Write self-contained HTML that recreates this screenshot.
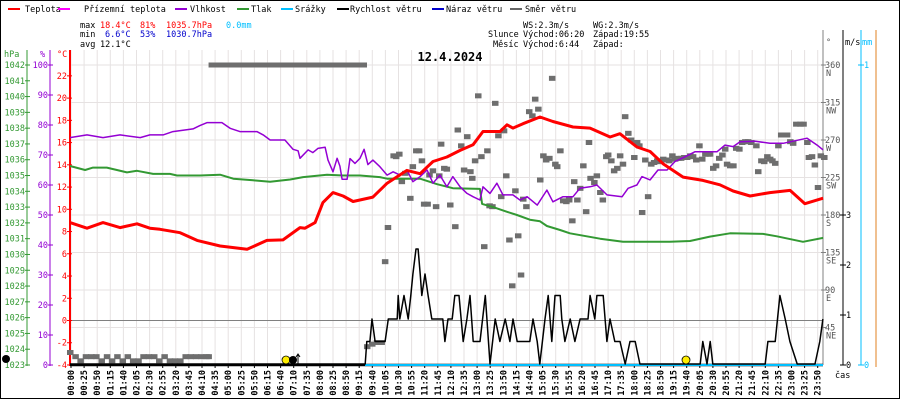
<!DOCTYPE html>
<html><head><meta charset="utf-8"><style>
html,body{margin:0;padding:0;background:#fff;}
svg{display:block;font-family:"DejaVu Sans Mono","Liberation Mono",monospace;}
</style></head><body>
<svg id="chart" width="900" height="400" viewBox="0 0 900 400" xmlns="http://www.w3.org/2000/svg">
<rect x="0" y="0" width="900" height="400" fill="#fff"/>
<g id="grid"></g>
<g id="legend" font-size="8.5">
 <line x1="8" y1="9" x2="20" y2="9" stroke="#f00" stroke-width="2"/><text x="25" y="12">Teplota</text>
 <line x1="58" y1="9" x2="70" y2="9" stroke="#f0f" stroke-width="2"/><text x="84" y="12">Přízemní teplota</text>
 <line x1="175" y1="9" x2="187" y2="9" stroke="#9400d3" stroke-width="2"/><text x="190" y="12">Vlhkost</text>
 <line x1="237" y1="9" x2="249" y2="9" stroke="#339933" stroke-width="2"/><text x="251" y="12">Tlak</text>
 <line x1="281" y1="9" x2="293" y2="9" stroke="#00bfff" stroke-width="2"/><text x="295" y="12">Srážky</text>
 <line x1="337" y1="9" x2="349" y2="9" stroke="#000" stroke-width="2"/><text x="350" y="12">Rychlost větru</text>
 <line x1="432" y1="9" x2="444" y2="9" stroke="#0000cc" stroke-width="2"/><text x="446" y="12">Náraz větru</text>
 <line x1="510" y1="9" x2="522" y2="9" stroke="#666" stroke-width="2"/><text x="525" y="12">Směr větru</text>
</g>
<g id="stats" font-size="8.5">
 <text x="80" y="28">max</text><text x="100" y="28" fill="#f00">18.4°C</text><text x="140" y="28" fill="#f00">81%</text><text x="166" y="28" fill="#f00">1035.7hPa</text><text x="226" y="28" fill="#00bfff">0.0mm</text>
 <text x="80" y="37">min</text><text x="105" y="37" fill="#00c">6.6°C</text><text x="140" y="37" fill="#00c">53%</text><text x="166" y="37" fill="#00c">1030.7hPa</text>
 <text x="80" y="47">avg</text><text x="100" y="47">12.1°C</text>
 <text x="523" y="28">WS:2.3m/s</text><text x="593" y="28">WG:2.3m/s</text>
 <text x="488" y="37">Slunce</text><text x="523" y="37">Východ:06:20</text><text x="593" y="37">Západ:19:55</text>
 <text x="493" y="47">Měsíc</text><text x="523" y="47">Východ:6:44</text><text x="593" y="47">Západ:</text>
</g>
<text x="450" y="61" text-anchor="middle" font-size="12" font-weight="bold">12.4.2024</text>
<g id="axes"></g>
<g id="series"></g>
<rect x="0.5" y="0.5" width="899" height="398" fill="none" stroke="#000" stroke-width="1"/>
</svg>
<script>
// ---- data ----
const timeLabels=["00:00","00:25","00:50","01:15","01:40","02:05","02:30","02:55","03:20","03:45","04:10","04:35","05:00","05:25","05:50","06:15","06:40","07:10","07:35","08:00","08:25","08:50","09:15","09:40","10:05","10:30","10:55","11:20","11:45","12:10","12:35","13:00","13:25","13:50","14:15","14:40","15:05","15:30","15:55","16:20","16:45","17:10","17:35","18:00","18:25","18:50","19:15","19:40","20:05","20:30","20:55","21:20","21:45","22:10","22:35","23:00","23:25","23:50"];
const tempHours=[0,0.54,1.05,1.59,2.13,2.54,2.86,3.5,4.04,4.77,5.63,6.26,6.77,7.31,7.47,7.79,8.04,8.36,8.68,9.0,9.63,10.08,10.71,11.13,11.54,11.98,12.4,12.81,13.13,13.67,13.89,14.08,14.4,14.94,15.35,15.99,16.53,17.17,17.48,18.02,18.44,18.85,19.49,20.12,20.66,21.08,21.62,22.25,22.89,23.36,23.94];
const tempValues=[8.8,8.3,8.8,8.35,8.7,8.3,8.2,7.9,7.2,6.7,6.4,7.2,7.25,8.35,8.3,8.8,10.6,11.5,11.2,10.7,11.1,12.35,13.5,13.2,14.3,14.7,15.3,15.8,17.0,17.0,17.6,17.3,17.7,18.3,17.9,17.4,17.3,16.5,16.8,15.6,15.2,14.1,12.9,12.6,12.2,11.65,11.2,11.5,11.7,10.5,11.0];
const humHours=[0,0.54,1.05,1.59,2.23,2.54,2.96,3.27,3.91,4.13,4.36,4.83,5.09,5.4,5.94,6.14,6.36,6.83,7.09,7.25,7.31,7.57,7.72,7.88,8.11,8.2,8.36,8.49,8.58,8.65,8.81,8.9,9.06,9.22,9.35,9.47,9.63,9.85,10.08,10.27,10.49,10.71,10.9,11.13,11.35,11.54,11.76,11.98,12.17,12.4,12.62,12.81,13.03,13.13,13.35,13.57,13.76,14.08,14.3,14.53,14.85,15.16,15.35,15.67,15.99,16.21,16.53,16.75,17.07,17.55,17.74,18.02,18.18,18.44,18.69,18.98,19.23,19.55,19.87,20.57,20.82,21.08,21.3,21.78,22.25,22.67,22.89,23.43,23.75,23.94];
const humValues=[75.8,76.7,75.8,76.7,75.8,76.7,76.7,77.8,78.7,79.8,80.8,80.8,78.9,77.8,77.8,76.7,75,75,71.9,71.4,68.9,71.7,70.8,72.2,72.6,68.3,64.4,68.9,66.3,61.9,61.9,68.8,67.2,68.9,71.9,66.8,68.3,66.1,63.3,64.4,63.3,65,61.1,62.8,65,60.6,63.3,59.4,62.8,59.4,57.2,56.1,55,59.4,57.2,60.6,56.7,56.7,55,56.1,53.3,58.3,54.4,56.1,56.1,58.9,59.4,60,56.7,56.1,58.9,60,62.8,61.7,65,65,67.8,69.4,71.1,71.1,73.3,72.8,74.4,74.6,73.9,73.9,74.4,75.6,73.3,71.7];
const presHours=[0,0.48,0.73,1.17,1.49,1.81,2.13,2.64,3.18,3.4,4.13,4.77,5.19,5.82,6.36,7.0,7.41,8.17,8.68,9.22,9.85,10.08,11.13,11.67,12.17,13.03,13.1,13.45,13.89,14.21,14.62,14.94,15.16,15.58,15.89,16.85,17.58,19.07,19.71,20.34,20.98,22.03,22.47,23.3,23.94];
const presValues=[1035.6,1035.35,1035.5,1035.5,1035.35,1035.2,1035.3,1035.1,1035.1,1035.0,1035.0,1035.05,1034.8,1034.7,1034.6,1034.75,1034.9,1035.05,1035.0,1035.0,1034.9,1034.8,1034.8,1034.45,1034.2,1034.15,1033.2,1033.0,1032.7,1032.5,1032.2,1032.1,1031.8,1031.55,1031.34,1031.0,1030.8,1030.8,1030.85,1031.13,1031.34,1031.3,1031.15,1030.8,1031.05];
const windMinutes=[0,563,566,572,576,582,601,607,624,626,629,637,645,650,654,660,664,668,671,677,683,690,711,715,721,729,734,742,750,757,763,769,782,792,801,811,820,830,839,845,853,877,883,891,896,906,912,919,925,935,938,944,954,963,973,988,992,1001,1005,1017,1024,1030,1039,1049,1059,1068,1078,1087,1202,1207,1215,1221,1226,1326,1331,1345,1354,1364,1373,1387,1421,1430,1436];
const windValues=[0,0,0.45,0.45,0.9,0.45,0.45,0.9,0.9,1.37,0.9,1.37,0.9,1.37,1.8,2.3,2.3,1.8,1.37,1.8,1.37,0.9,0.9,0.45,0.9,0.9,1.37,1.37,0.45,0.9,1.37,0.45,0.45,1.37,0,0.9,0.45,0.9,0.45,0.9,0.45,0.45,0.9,0.45,0,0.9,1.37,0.45,1.37,1.37,0.9,0.45,0.9,0.45,0.9,0.9,1.37,0.9,1.37,1.37,0.45,0.9,0.45,0.45,0,0.45,0.45,0,0,0.45,0,0.45,0,0,0.45,0.45,1.37,0.9,0.45,0,0,0.45,0.9];
const dirHours=[0,0.17,0.33,0.5,0.67,0.83,1.0,1.17,1.33,1.5,1.67,1.83,2.0,2.17,2.33,2.5,2.67,2.83,3.0,3.17,3.33,3.5,3.67,3.83,4.0,4.17,4.33,4.4,
4.5,4.67,4.83,5.0,5.17,5.33,5.5,5.67,5.83,6.0,6.17,6.33,6.5,6.67,6.83,7.0,7.17,7.33,7.5,7.67,7.83,8.0,8.17,8.33,8.5,8.67,8.83,9.0,9.17,9.33,
9.44,9.6,9.75,9.9,
10.01,10.10,10.28,10.36,10.46,10.54,10.65,10.81,10.89,11.0,11.09,11.18,11.25,11.36,11.42,11.53,11.63,11.73,11.79,11.89,11.97,12.08,12.24,12.32,12.43,12.52,12.62,12.72,12.78,12.87,12.97,13.07,13.16,13.26,13.33,13.42,13.51,13.61,13.70,13.79,13.86,13.96,14.05,14.15,14.24,14.33,14.40,14.50,14.59,14.69,14.78,14.88,14.94,15.04,15.13,15.23,15.32,15.42,15.48,15.58,15.67,15.77,15.86,15.96,16.02,16.12,16.21,16.31,16.40,16.49,16.54,
16.66,16.74,16.85,16.93,17.04,17.10,17.20,17.29,17.39,17.48,17.57,17.64,17.74,17.83,17.93,18.02,18.09,18.18,18.28,18.37,18.47,18.56,18.66,18.75,18.85,18.95,19.04,19.14,19.23,19.33,19.42,19.52,19.61,19.71,19.80,19.90,20.0,20.09,20.19,20.28,20.34,20.44,20.53,20.63,20.73,20.82,20.88,20.98,21.08,21.17,21.27,21.36,21.46,21.55,21.65,21.81,21.87,21.97,22.06,22.16,22.25,22.32,22.41,22.51,22.60,22.79,22.89,22.98,23.08,23.21,23.31,23.43,23.48,23.58,23.67,23.77,23.86,23.97];
const dirDegrees=[15,10,5,10,10,10,5,10,5,10,5,10,5,5,10,10,10,5,10,5,5,5,10,10,10,10,10,10,
360,360,360,360,360,360,360,360,360,360,360,360,360,360,360,360,360,360,360,360,360,360,360,360,360,360,360,360,360,360,
22,25,27,27,
124,165,251,250,253,220,230,200,238,257,257,245,193,193,228,233,190,227,265,236,235,192,166,282,263,234,274,232,224,245,323,250,142,257,191,190,314,275,202,281,227,150,95,209,155,108,199,190,304,299,319,307,222,251,246,248,344,241,238,257,197,196,198,173,220,198,212,239,184,267,224,
219,227,207,198,250,252,245,233,236,251,241,298,278,270,249,267,263,183,246,202,241,243,245,244,247,246,245,251,247,248,248,249,249,251,250,246,263,247,253,253,253,236,239,248,252,259,241,239,239,260,259,267,268,268,267,263,232,245,244,250,247,245,242,263,276,276,268,266,289,289,289,267,249,250,240,213,251,249];
const hpaTicks=[1023,1024,1025,1026,1027,1028,1029,1030,1031,1032,1033,1034,1035,1036,1037,1038,1039,1040,1041,1042];
const humTicks=[0,10,20,30,40,50,60,70,80,90,100];
const tempTicks=[-4,-2,0,2,4,6,8,10,12,14,16,18,20,22];
const dirTicks=[45,90,135,180,225,270,315,360];
const dirNames=["NE","E","SE","S","SW","W","NW","N"];
const windTicks=[0,1,2,3];
const rainTicks=[0,1];

// ---- scales ----
const X0=70,X1=825,YB=365,YTOP=50,FS=8.5;
const xH=h=>X0+h*(X1-X0)/24;
const yT=t=>320.5-t*11.12;
const yHum=v=>365-v*3;
const yP=p=>365-(p-1023)*15.79;
const yD=d=>365-d*300/360;
const yW=w=>365-w*50;
const yR=r=>365-r*300;
const NS="http://www.w3.org/2000/svg";
function mk(parent,tag,attrs,txt){const e=document.createElementNS(NS,tag);for(const k in attrs)e.setAttribute(k,attrs[k]);if(txt!==undefined)e.textContent=txt;parent.appendChild(e);return e;}
const grid=document.getElementById('grid'),axes=document.getElementById('axes'),series=document.getElementById('series');

// grid
timeLabels.forEach((l,i)=>{const x=71+i*13.1;
 const g=mk(grid,'line',{x1:x,y1:YTOP,x2:x,y2:YB,stroke:'#e6e2e2','stroke-width':1});
 
 
 const t=mk(axes,'text',{x:0,y:0,'font-size':8.5,'font-weight':'bold','text-anchor':'end',transform:`translate(${x+3},370) rotate(-90)`},l);
 
 
 mk(axes,'line',{x1:x,y1:YB,x2:x,y2:YB+3,stroke:'#000'});
});
for(let k=0;k<8;k++){const y=65+k*37.5;
 const g=mk(grid,'line',{x1:X0,y1:y,x2:823,y2:y,stroke:'#e6e2e2','stroke-width':1});
 
 
}
const zl=mk(grid,'line',{x1:X0,y1:yT(0),x2:823,y2:yT(0),stroke:'#808080','stroke-width':1});



// left axes
function vaxis(x,color,name){const a=mk(axes,'line',{x1:x,y1:YTOP,x2:x,y2:YB+1,stroke:color,'stroke-width':x===X0?2:1});
 
 }
vaxis(27,'#339933','hpa-axis');vaxis(50,'#9400d3','humidity-axis');vaxis(X0,'#f00','temperature-axis');
mk(axes,'text',{x:4,y:57,fill:'#339933','font-size':FS},'hPa');
mk(axes,'text',{x:40,y:57,fill:'#9400d3','font-size':FS},'%');
mk(axes,'text',{x:57,y:57,fill:'#f00','font-size':FS},'°C');
hpaTicks.forEach(v=>{const y=yP(v);mk(axes,'line',{x1:25,y1:y,x2:30,y2:y,stroke:'#339933'});
 const t=mk(axes,'text',{x:25,y:y+3,fill:'#339933','font-size':FS,'text-anchor':'end'},v);
 
 });
humTicks.forEach(v=>{const y=yHum(v);mk(axes,'line',{x1:48,y1:y,x2:53,y2:y,stroke:'#9400d3'});
 const t=mk(axes,'text',{x:48,y:y+3,fill:'#9400d3','font-size':FS,'text-anchor':'end'},v);
 
 });
tempTicks.forEach(v=>{const y=yT(v);mk(axes,'line',{x1:67,y1:y,x2:72,y2:y,stroke:'#f00'});
 const t=mk(axes,'text',{x:67,y:y+3,fill:'#f00','font-size':FS,'text-anchor':'end'},v);
 
 });

// right axes
const ra=mk(axes,'line',{x1:823,y1:YTOP-20,x2:823,y2:YB,stroke:'#808080','stroke-width':1});


mk(axes,'text',{x:826,y:45,'font-size':FS,fill:'#555'},'°');
dirTicks.forEach((d,i)=>{const y=yD(d);mk(axes,'line',{x1:821,y1:y,x2:826,y2:y,stroke:'#808080'});
 const t=mk(axes,'text',{x:825,y:y+3,'font-size':FS,fill:'#555'},d);
 
 
 mk(axes,'text',{x:826,y:y+11,'font-size':FS,fill:'#555'},dirNames[i]);});
const wa=mk(axes,'line',{x1:843,y1:YTOP-20,x2:843,y2:YB,stroke:'#000'});


mk(axes,'text',{x:845,y:45,'font-size':FS},'m/s');
windTicks.forEach(v=>{const y=yW(v);mk(axes,'line',{x1:840,y1:y,x2:846,y2:y,stroke:'#000'});
 mk(axes,'text',{x:846,y:y+3,'font-size':FS},v);});
const ma=mk(axes,'line',{x1:861,y1:YTOP-20,x2:861,y2:YB,stroke:'#00bfff'});


mk(axes,'text',{x:862,y:45,'font-size':FS,fill:'#00bfff'},'mm');
rainTicks.forEach(v=>{const y=yR(v);mk(axes,'line',{x1:858,y1:y,x2:864,y2:y,stroke:'#00bfff'});
 mk(axes,'text',{x:864,y:y+3,'font-size':FS,fill:'#00bfff'},v);});
mk(axes,'line',{x1:876,y1:YTOP-20,x2:876,y2:YB+2,stroke:'#e08020'});
mk(axes,'text',{x:835,y:378,'font-size':FS},'čas');

// series
const xa=mk(series,'line',{x1:X0,y1:YB,x2:823,y2:YB,stroke:'#000','stroke-width':2.5});


const rain=mk(series,'line',{x1:365,y1:YB,x2:823,y2:YB,stroke:'#00bfff','stroke-width':2});



const dg=mk(series,'g',{fill:'#6e6e6e'});


dirHours.forEach((h,i)=>{const r=mk(dg,'rect',{x:xH(h)-3,y:yD(dirDegrees[i])-2.5,width:6.5,height:5});
 
 });

function line(hs,vs,ys,color,w,name,scaleX){const pts=hs.map((h,i)=>(scaleX?scaleX(h):xH(h)).toFixed(1)+','+ys(vs[i]).toFixed(1)).join(' ');
 const p=mk(series,'polyline',{points:pts,fill:'none',stroke:color,'stroke-width':w,'stroke-linejoin':'round'});
 
 }
line(presHours,presValues,yP,'#339933',2,'pressure-line');
line(humHours,humValues,yHum,'#9400d3',1.5,'humidity-line');
line(tempHours,tempValues,yT,'#f00',3,'temperature-line');
line(windMinutes,windValues,v=>yW(v)-1,'#000',1.5,'wind-speed-line',m=>xH(m/60));

// markers
const sr=mk(series,'circle',{cx:286,cy:360,r:4,fill:'#ffee00',stroke:'#000','stroke-width':0.8});


const mr=mk(series,'circle',{cx:293,cy:360,r:4,fill:'#000'});


mk(series,'line',{x1:298,y1:364,x2:298,y2:355,stroke:'#000'});
mk(series,'path',{d:'M296,357 L298,354 L300,357',fill:'none',stroke:'#000'});
const ss=mk(series,'circle',{cx:686,cy:360,r:4,fill:'#ffee00',stroke:'#000','stroke-width':0.8});


const lm=mk(series,'circle',{cx:6,cy:359,r:4,fill:'#000'});


</script>
</body></html>
